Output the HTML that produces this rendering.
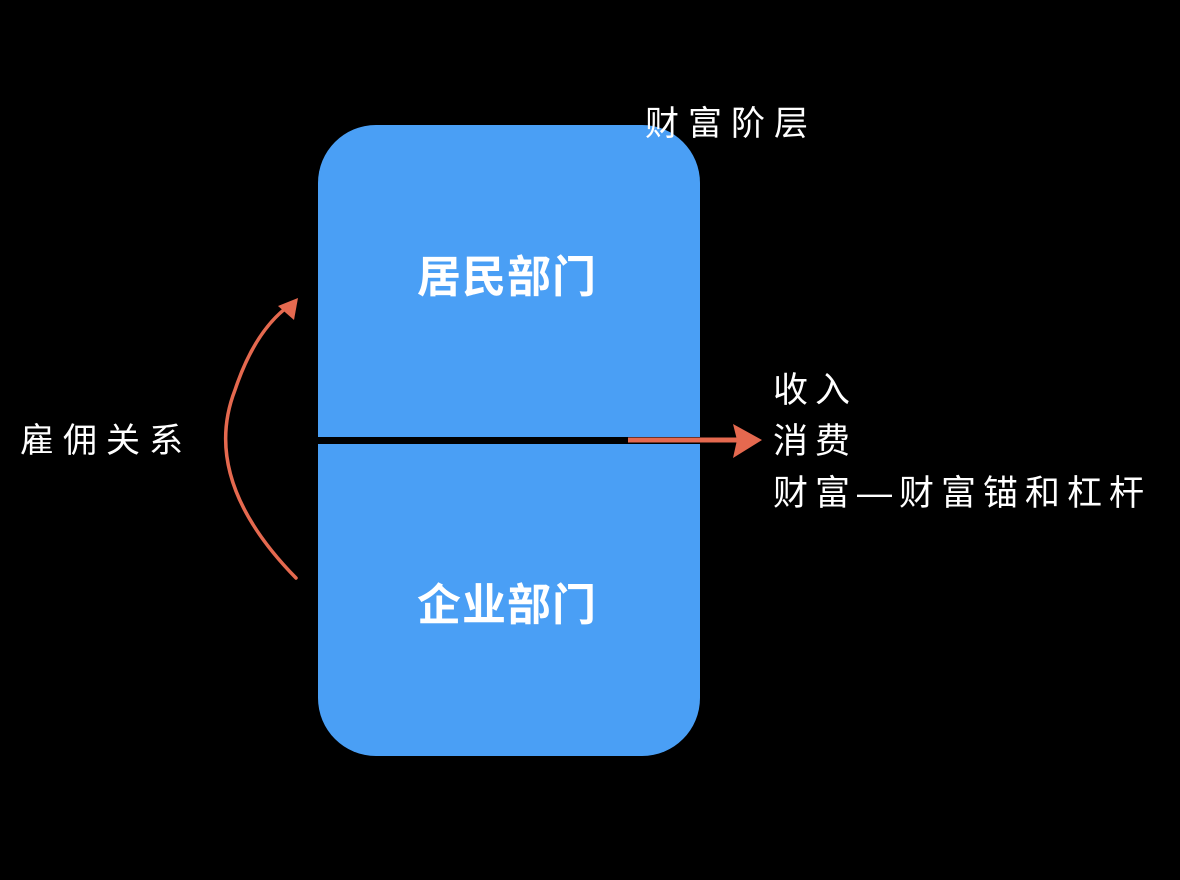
<!DOCTYPE html>
<html><head><meta charset="utf-8"><style>
html,body{margin:0;padding:0;background:#000;}
body{width:1180px;height:880px;position:relative;overflow:hidden;font-family:"Liberation Sans","Noto Sans CJK SC",sans-serif;color:#fff;}
.box{position:absolute;left:318px;top:125px;width:382px;height:631px;background:#4a9ff5;border-radius:58px;}
.t{position:absolute;white-space:nowrap;line-height:1;}
</style></head><body>
<div class="box"></div>
<div style="position:absolute;left:318px;top:437px;width:382px;height:7px;background:#000"></div>
<div class="t" style="left:417px;top:256px;font-size:44px;font-weight:bold;letter-spacing:1px">居民部门</div>
<div class="t" style="left:417px;top:584px;font-size:44px;font-weight:bold;letter-spacing:1px">企业部门</div>
<div class="t" style="left:645px;top:107px;font-size:34px;letter-spacing:9px">财富阶层</div>
<div class="t" style="left:20px;top:424px;font-size:34px;letter-spacing:9px">雇佣关系</div>
<div class="t" style="left:773px;top:373px;font-size:35px;letter-spacing:7px">收入</div>
<div class="t" style="left:773px;top:424px;font-size:35px;letter-spacing:7px">消费</div>
<div class="t" style="left:773px;top:476px;font-size:35px;letter-spacing:7px">财富—财富锚和杠杆</div>
<svg width="1180" height="880" style="position:absolute;left:0;top:0">
<path d="M296 578 Q200 480 235 390 Q255 330 290 305" fill="none" stroke="#e5694f" stroke-width="3.5" stroke-linecap="round"/>
<path d="M298 298 L278 306 L294 320 Z" fill="#e5694f"/>
<line x1="628" y1="440" x2="740" y2="440" stroke="#e5694f" stroke-width="5"/>
<path d="M762 440 L733 424 L737 440 L733 458 Z" fill="#e5694f"/>
</svg>
</body></html>
